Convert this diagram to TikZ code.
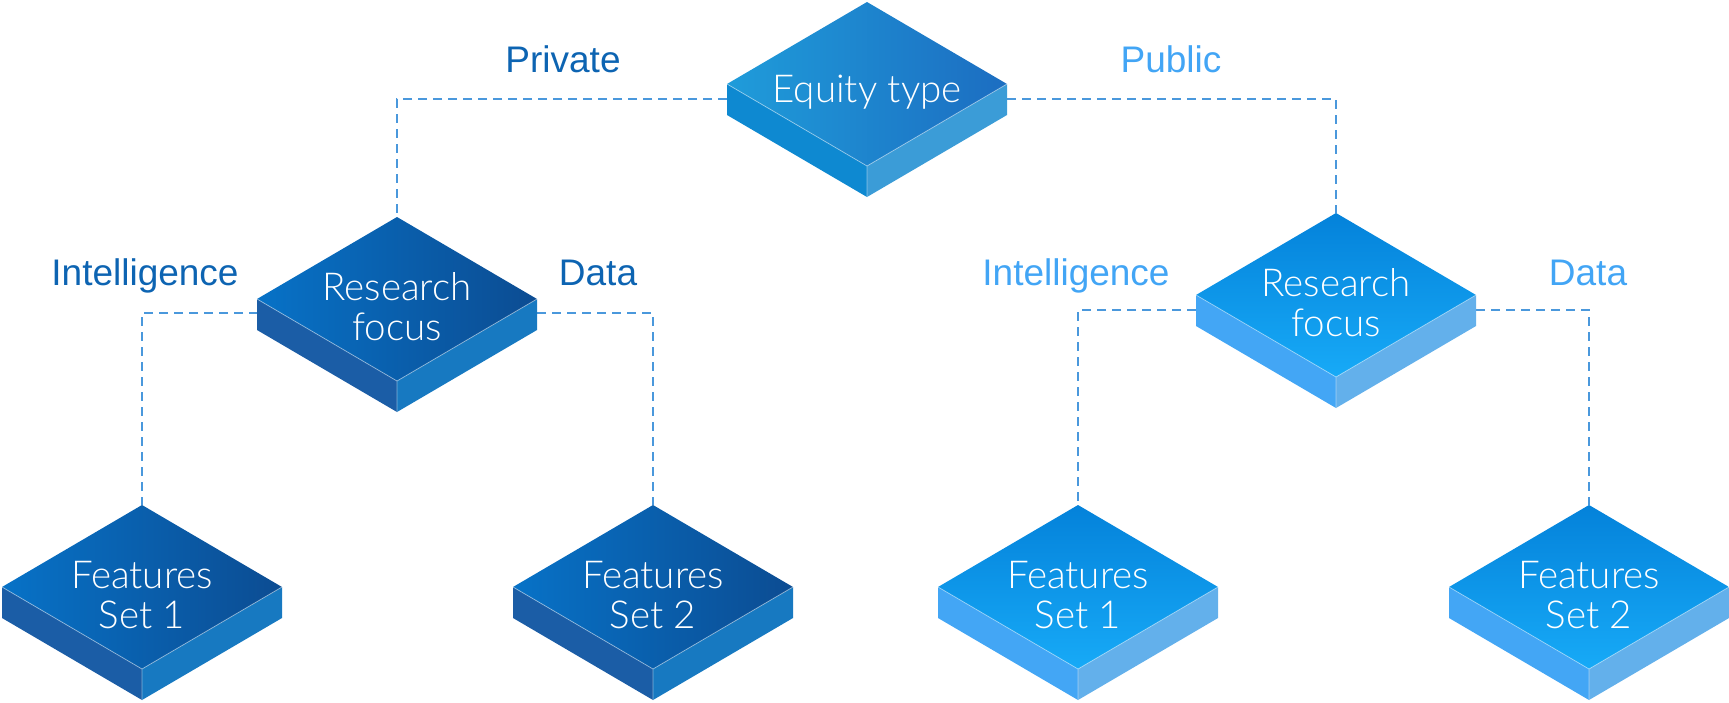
\documentclass[tikz,border=0pt]{standalone}
\usepackage{fontspec}
\usepackage{xcolor}
\usepackage{tikz}
\usetikzlibrary{positioning}

\setmainfont{Liberation Sans}
\IfFontExistsTF{Lato Light}{\newfontfamily\boxfont{Lato Light}}{\newfontfamily\boxfont{Lato}}

\definecolor{labeldark}{HTML}{0D64B2}
\definecolor{labellight}{HTML}{42A5F5}
\definecolor{linkblue}{HTML}{4A98DC}

% isometric box: name, x, y (pixels, y down), palette, text
\newcommand{\isobox}[5]{%
  \begin{scope}[shift={(#2,-#3)}]
    \fill[#4L] (-140,0) -- (0,-82) -- (0,-113) -- (-140,-31) -- cycle;
    \fill[#4R] (140,0) -- (0,-82) -- (0,-113) -- (140,-31) -- cycle;
    \shade[#4Top] (-140,0) -- (0,82) -- (140,0) -- (0,-82) -- cycle;
    \draw[edge] (-140,0) -- (0,-82) -- (140,0) (0,-82) -- (0,-113);
    \coordinate (#1-t) at (0,82);
    \coordinate (#1-l) at (-140,-15);
    \coordinate (#1-r) at (140,-15);
    \node[boxtext] (#1) at (0,-8) {#5};
  \end{scope}}

\begin{document}
\begin{tikzpicture}[x=1pt, y=1pt]
    \tikzstyle{edge} = [white, opacity=0.45, line width=0.8pt]
    \tikzstyle{boxtext} = [white, align=center, font=\boxfont\fontsize{38.5}{40}\selectfont]
    \tikzstyle{label} = [anchor=base, font=\fontsize{37}{40}\selectfont]
    \tikzstyle{link} = [draw=linkblue, line width=2pt, dash pattern=on 9pt off 6pt]
    % palettes
    \tikzstyle{eqTop} = [left color={rgb,255:red,31;green,156;blue,218}, right color={rgb,255:red,28;green,109;blue,193}]
    \tikzstyle{eqL} = [fill={rgb,255:red,14;green,137;blue,209}]
    \tikzstyle{eqR} = [fill={rgb,255:red,59;green,156;blue,215}]
    \tikzstyle{darkTop} = [left color={rgb,255:red,7;green,114;blue,199}, right color={rgb,255:red,12;green,76;blue,146}]
    \tikzstyle{darkL} = [fill={rgb,255:red,27;green,93;blue,166}]
    \tikzstyle{darkR} = [fill={rgb,255:red,23;green,121;blue,193}]
    \tikzstyle{lightTop} = [top color={rgb,255:red,4;green,130;blue,218}, bottom color={rgb,255:red,23;green,170;blue,247}]
    \tikzstyle{lightL} = [fill={rgb,255:red,67;green,166;blue,245}]
    \tikzstyle{lightR} = [fill={rgb,255:red,99;green,176;blue,235}]

    \useasboundingbox (0,0) rectangle (1729,-702);

    % connectors first, boxes on top
    \coordinate (eqL) at (727,-99);
    \coordinate (eqR) at (1007,-99);
    \coordinate (pvL) at (258,-313);
    \coordinate (pvR) at (537,-313);
    \coordinate (pbL) at (1196,-310);
    \coordinate (pbR) at (1476,-310);
    \draw[link] (eqL) -| (397,-217);
    \draw[link] (eqR) -| (1336,-213);
    \draw[link] (pvL) -| (142,-505);
    \draw[link] (pvR) -| (653,-505);
    \draw[link] (pbL) -| (1078,-505);
    \draw[link] (pbR) -| (1589,-505);

    \isobox{equity}{867}{84}{eq}{Equity type}
    \isobox{focusPrivate}{397}{299}{dark}{Research\\focus}
    \isobox{focusPublic}{1336}{295}{light}{Research\\focus}
    \isobox{setPrivA}{142}{587}{dark}{Features\\Set 1}
    \isobox{setPrivB}{653}{587}{dark}{Features\\Set 2}
    \isobox{setPubA}{1078}{587}{light}{Features\\Set 1}
    \isobox{setPubB}{1589}{587}{light}{Features\\Set 2}

    \node[label, labeldark] (private) at (563,-72) {Private};
    \node[label, labellight] (public) at (1171,-72) {Public};
    \node[label, labeldark] (intelPriv) at (145,-285) {Intelligence};
    \node[label, labeldark] (dataPriv) at (598,-285) {Data};
    \node[label, labellight] (intelPub) at (1076,-285) {Intelligence};
    \node[label, labellight] (dataPub) at (1588,-285) {Data};
\end{tikzpicture}
\end{document}
